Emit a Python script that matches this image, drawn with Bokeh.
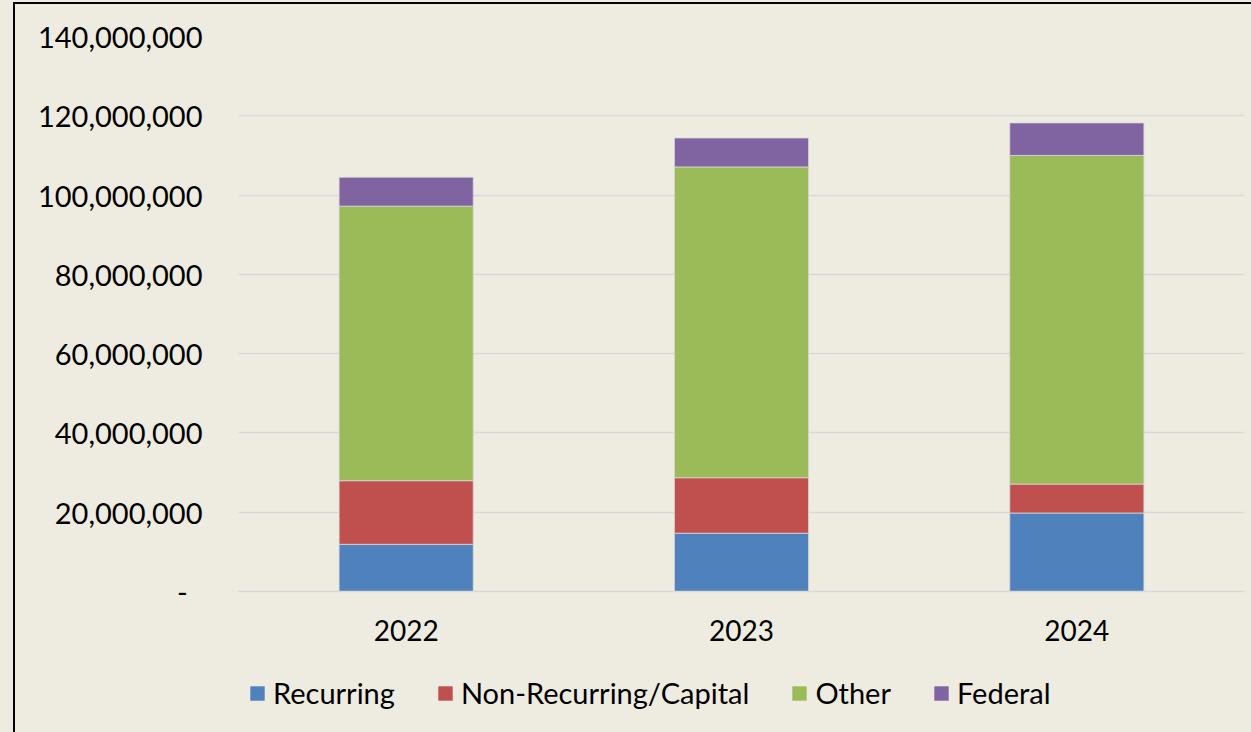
from bokeh.plotting import figure
from bokeh.layouts import column
from bokeh.models import Legend, LegendItem, CustomJSTickFormatter, FactorRange
from bokeh.embed import file_html
from bokeh.resources import INLINE

years = ["2022", "2023", "2024"]
recurring = [11.9e6, 14.7e6, 19.8e6]
non_recurring = [16.05e6, 14.0e6, 7.3e6]
other = [69.25e6, 78.4e6, 82.9e6]
federal = [7.3e6, 7.3e6, 8.2e6]
series = ["Recurring", "Non-Recurring/Capital", "Other", "Federal"]
colors = ["#4F81BD", "#C0504D", "#9BBB59", "#8064A2"]
y_ticks = [0, 20e6, 40e6, 60e6, 80e6, 100e6, 120e6, 140e6]

BG = "#EEECE1"
FONT = "Lato"
MAIN_H = 660

data = {"years": years, "Recurring": recurring, "Non-Recurring/Capital": non_recurring,
        "Other": other, "Federal": federal}

p = figure(x_range=FactorRange(*years), y_range=(0, 140e6), width=1251, height=MAIN_H,
           output_backend="svg", toolbar_location=None,
           min_border_left=238, min_border_right=7, min_border_top=36,
           min_border_bottom=MAIN_H - 591)
p.background_fill_color = BG
p.border_fill_color = BG
p.outline_line_color = None

p.vbar_stack(series, x="years", width=0.40, source=data, color=colors,
             line_color="#D8D8D8", line_width=0.8)

p.xgrid.grid_line_color = None
p.ygrid.grid_line_color = "#D9D9D9"
p.ygrid.grid_line_width = 1.5
p.yaxis.ticker = y_ticks
p.yaxis.formatter = CustomJSTickFormatter(code="""
return tick == 0 ? "-\u00a0\u00a0" : tick.toLocaleString("en-US");
""")
for ax in (p.xaxis, p.yaxis):
    ax.major_tick_line_color = None
    ax.minor_tick_line_color = None
    ax.major_label_text_font = FONT
    ax.major_label_text_color = "#000000"
p.xaxis.major_label_text_font_size = "28px"
p.yaxis.major_label_text_font_size = "29px"
p.yaxis.axis_line_color = None
p.yaxis.major_label_standoff = 30
p.xaxis.axis_line_color = "#D9D9D9"
p.xaxis.axis_line_width = 1.5
p.xaxis.major_label_standoff = 22

# legend strip below the chart (legend-only renderers, not drawn)
leg_fig = figure(width=1251, height=732 - MAIN_H, output_backend="svg", toolbar_location=None,
                 min_border=0, x_range=FactorRange(*years), y_range=(0, 1))
leg_fig.axis.visible = False
leg_fig.grid.visible = False
leg_fig.outline_line_color = None
leg_fig.background_fill_color = BG
leg_fig.border_fill_color = BG
leg_renderers = leg_fig.vbar_stack(series, x="years", width=0.40, source=data, color=colors,
                                   line_color=None)
for r in leg_renderers:
    r.visible = False
legend = Legend(items=[LegendItem(label=s, renderers=[r]) for s, r in zip(series, leg_renderers)],
                orientation="horizontal", location=(10, 22),
                label_text_font=FONT, label_text_font_size="29px", label_text_color="#000000",
                glyph_width=18, glyph_height=18, label_standoff=7, spacing=41,
                padding=0, margin=0, background_fill_alpha=0, border_line_color=None,
                inactive_fill_alpha=0)
leg_fig.add_layout(legend, "center")

layout = column(p, leg_fig, spacing=0)

html = file_html(layout, INLINE)
css = ("<style>html,body{background:%s;}"
       "body::after{content:'';position:fixed;left:13px;top:2px;width:3000px;height:3000px;"
       "border-left:2px solid #000;border-top:2px solid #000;pointer-events:none;}</style>") % BG
html = html.replace("</head>", css + "</head>", 1)
open("out.html", "w").write(html)
